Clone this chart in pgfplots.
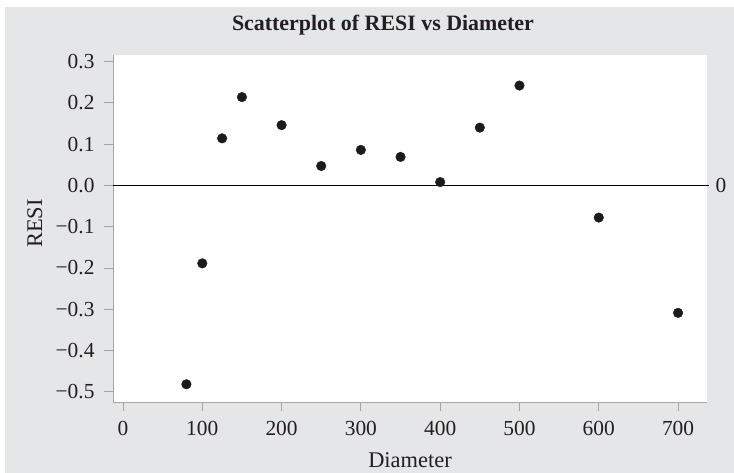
\documentclass[border=0pt]{standalone}
\usepackage{fontspec}
\setmainfont{Liberation Serif}
\usepackage{pgfplots}
\pgfplotsset{compat=1.18}
\definecolor{bggray}{RGB}{229,230,232}
\definecolor{axgray}{RGB}{165,165,165}
\definecolor{dotc}{RGB}{28,26,28}
\definecolor{txt}{RGB}{35,31,32}
\begin{document}
\begin{tikzpicture}
\fill[white] (-113bp,-71bp) rectangle (621bp,402bp);
\fill[bggray] (-108bp,-71bp) rectangle (621bp,395bp);
\begin{axis}[
  at={(0,0)}, anchor=south west,
  scale only axis, width=594bp, height=347bp,
  xmin=-12.6, xmax=736.5, ymin=-0.525, ymax=0.316,
  axis background/.style={fill=white},
  axis line style={axgray, line width=0.8bp},
  axis x line*=bottom, axis y line*=left,
  xtick={0,100,200,300,400,500,600,700},
  ytick={-0.5,-0.4,-0.3,-0.2,-0.1,0,0.1,0.2,0.3},
  yticklabels={−0.5,−0.4,−0.3,−0.2,−0.1,0.0,0.1,0.2,0.3},
  tick align=outside, major tick length=9bp,
  tick style={axgray, line width=0.8bp},
  /pgf/number format/assume math mode=true,
  ticklabel style={font=\fontsize{21.5}{25}\selectfont, text=txt},
  xticklabel style={yshift=-7bp},
  yticklabel style={xshift=-6bp},
  title={\textbf{Scatterplot of RESI vs Diameter}},
  title style={font=\fontsize{22}{26}\selectfont, text=txt, at={(axis description cs:0.4545,1.0548)}, anchor=base},
  xlabel={Diameter},
  ylabel={RESI},
  xlabel style={font=\fontsize{22.5}{26}\selectfont, text=txt, at={(axis description cs:0.5,-0.190)}, anchor=base},
  ylabel style={font=\fontsize{22.5}{26}\selectfont, text=txt, at={(axis description cs:-0.1195,0.514)}, anchor=base},
  clip=false,
]
\draw[black, line width=0.8bp] (axis cs:-12.6,0) -- (axis cs:739,0);
\node[anchor=west, font=\fontsize{21.5}{25}\selectfont, text=txt] at (axis cs:736.5,0) [xshift=5bp] {0};
\addplot[only marks, mark=*, mark size=4.8bp, mark options={fill=dotc, draw=dotc}] coordinates {
(80,-0.482) (100,-0.189) (125,0.114) (150,0.214) (200,0.146) (250,0.047)
(300,0.086) (350,0.069) (400,0.008) (450,0.140) (500,0.242) (600,-0.078) (700,-0.309)
};
\end{axis}
\end{tikzpicture}
\end{document}
